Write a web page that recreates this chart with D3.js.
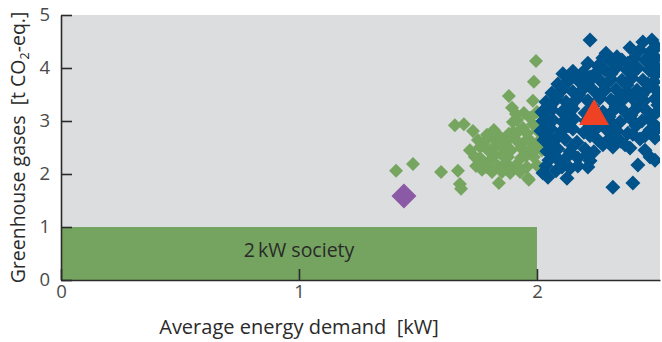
<!DOCTYPE html>
<html>
<head>
<meta charset="utf-8">
<script src="https://cdn.jsdelivr.net/npm/d3@7"></script>
<style>
  html, body { margin: 0; padding: 0; background: #fff; }
  svg { display: block; font-family: "Open Sans", "Noto Sans", sans-serif; }
</style>
</head>
<body>
<svg id="chart" width="662" height="342"></svg>
<script>
// Average energy demand [kW] vs. greenhouse gases [t CO2-eq.]
const xTicks = [0, 1, 2];
const yTicks = [0, 1, 2, 3, 4, 5];

// 2 kW society target zone
const targetZone = { x0: 0, x1: 2, y0: 0, y1: 1, label: "2\u2009kW society" };

// Green cluster
const greenPoints = [
  [1.996,4.13],[1.987,3.74],[1.882,3.47],[1.983,3.38],[2.000,3.17],[1.895,3.25],[1.912,3.13],
  [1.899,2.98],[1.655,2.92],[1.693,2.94],[1.731,2.81],[1.819,2.83],[1.815,2.70],[1.718,2.45],
  [1.761,2.51],[1.408,2.06],[1.479,2.19],[1.597,2.04],[1.668,2.06],[1.676,1.81],[1.681,1.72],
  [1.744,2.15],[1.769,2.08],[1.840,1.83],[1.887,2.02],[1.966,1.89],[1.958,2.13],[2.000,2.17],
  [1.941,2.87],[1.739,2.32],[1.962,1.92],
  [1.794,2.45],[1.828,2.55],[1.853,2.36],[1.870,2.60],[1.891,2.45],[1.912,2.64],[1.933,2.49],
  [1.954,2.34],[1.975,2.62],[1.996,2.47],[1.870,2.21],[1.912,2.17],[1.933,2.30],[1.803,2.26],
  [1.836,2.15],[1.782,2.62],[1.958,2.77],[1.983,2.94],[2.004,2.81],[2.013,2.64],[1.924,2.81],
  [1.882,2.76],[1.853,2.04],[1.811,2.04],[1.786,2.13],[1.987,2.32],[2.021,2.45],[2.013,2.11],
  [1.845,2.70],[1.971,3.06],[1.945,3.15],
  [1.761,2.30],[1.790,2.74],[1.824,2.36],[1.857,2.49],[1.878,2.32],[1.899,2.79],[1.950,2.62],
  [1.971,2.45],[1.891,2.08],[1.929,2.04],[1.811,2.45],[1.752,2.64],[1.916,3.02],[1.773,2.23]
];

// Blue cluster
const bluePoints = [
  [2.223,4.53],[2.445,4.49],[2.483,4.53],[2.504,4.40],
  [2.290,4.28],[2.336,4.21],[2.391,4.38],[2.433,4.34],[2.475,4.30],
  [2.214,4.09],[2.256,4.04],[2.315,4.11],[2.357,4.15],[2.408,4.19],[2.454,4.15],[2.500,4.19],
  [2.109,3.89],[2.151,3.94],[2.193,3.92],[2.244,3.89],[2.286,3.96],[2.332,4.00],[2.378,3.96],
  [2.424,4.00],[2.471,3.96],[2.508,4.00],
  [2.088,3.70],[2.130,3.74],[2.172,3.77],[2.214,3.72],[2.265,3.77],[2.311,3.79],[2.357,3.77],
  [2.399,3.81],[2.445,3.77],[2.492,3.74],
  [2.063,3.53],[2.105,3.58],[2.151,3.55],[2.193,3.60],[2.239,3.57],[2.286,3.58],[2.332,3.60],
  [2.378,3.55],[2.420,3.58],[2.466,3.62],[2.508,3.55],
  [2.038,3.36],[2.080,3.40],[2.122,3.36],[2.168,3.42],[2.214,3.38],[2.265,3.43],[2.311,3.40],
  [2.357,3.38],[2.403,3.42],[2.450,3.38],[2.496,3.42],
  [2.021,3.17],[2.063,3.21],[2.105,3.17],[2.151,3.23],[2.202,3.15],[2.277,3.17],[2.324,3.21],
  [2.370,3.17],[2.416,3.23],[2.462,3.19],[2.504,3.17],
  [2.025,3.00],[2.067,3.02],[2.109,2.98],[2.155,3.04],[2.206,3.00],[2.256,2.96],[2.303,3.02],
  [2.349,2.98],[2.395,3.04],[2.441,3.00],[2.487,2.96],
  [2.017,2.81],[2.059,2.85],[2.105,2.81],[2.151,2.85],[2.197,2.79],[2.244,2.83],[2.290,2.85],
  [2.336,2.81],[2.382,2.77],[2.475,2.83],
  [2.029,2.64],[2.071,2.62],[2.118,2.66],[2.168,2.60],[2.256,2.64],[2.307,2.68],[2.353,2.62],
  [2.433,2.66],[2.496,2.68],
  [2.042,2.43],[2.088,2.47],[2.139,2.42],[2.202,2.47],[2.239,2.42],[2.319,2.51],[2.391,2.49],
  [2.454,2.45],
  [2.050,2.26],[2.097,2.23],[2.172,2.30],[2.223,2.25],[2.475,2.32],[2.496,2.26],
  [2.025,2.02],[2.080,2.06],[2.139,2.11],[2.214,2.13],[2.424,2.17],
  [2.046,1.94],[2.126,1.92],[2.403,1.83],[2.319,1.75],
  [2.277,4.19],[2.382,4.09],[2.475,4.09],
  [2.223,3.83],[2.311,3.89],[2.403,3.91],[2.496,3.87],[2.130,3.83],
  [2.109,3.64],[2.197,3.68],[2.286,3.68],[2.378,3.68],[2.466,3.70],
  [2.084,3.47],[2.176,3.49],[2.265,3.51],[2.353,3.47],[2.441,3.49],[2.517,3.47],
  [2.055,3.28],[2.143,3.30],[2.235,3.28],[2.332,3.28],[2.424,3.30],[2.508,3.30],
  [2.042,3.09],[2.130,3.09],[2.227,3.06],[2.303,3.08],[2.395,3.11],[2.479,3.09],
  [2.046,2.91],[2.134,2.91],[2.227,2.91],[2.319,2.91],[2.416,2.91],[2.508,2.87],
  [2.038,2.72],[2.097,2.74],[2.223,2.72],[2.315,2.75],[2.403,2.75],[2.454,2.72],
  [2.063,2.53],[2.151,2.53],[2.277,2.55],[2.370,2.55],
  [2.076,2.34],[2.122,2.30],[2.210,2.36],
  [2.038,2.15],[2.105,2.13],[2.172,2.15]
];

// Highlighted single values
const purplePoint = [1.441, 1.585];
const redPoint = [2.24, 3.17];

const colors = {
  plotBg: "#dcdddf",
  zone: "#74a45f",
  green: "#76a560",
  blue: "#00528a",
  purple: "#8a5aa6",
  red: "#ef4123",
  axis: "#2b2b2b",
  tickText: "#4a4a4a",
  title: "#2a2a2a"
};

const svg = d3.select("#chart");
const margin = { left: 61, right: 2, top: 15, bottom: 62 };
const W = 662, H = 342;

const x = d3.scaleLinear().domain([0, 2.517]).range([margin.left, W - margin.right]);
const y = d3.scaleLinear().domain([0, 5]).range([H - margin.bottom, margin.top]);

// plot background
svg.append("rect")
  .attr("x", x(0)).attr("y", y(5))
  .attr("width", x(2.517) - x(0)).attr("height", y(0) - y(5))
  .attr("fill", colors.plotBg);

svg.append("clipPath").attr("id", "plot-clip")
  .append("rect")
  .attr("x", x(0)).attr("y", y(5))
  .attr("width", x(2.517) - x(0)).attr("height", y(0) - y(5));

const plot = svg.append("g").attr("clip-path", "url(#plot-clip)");

// target zone
plot.append("rect")
  .attr("x", x(targetZone.x0)).attr("y", y(targetZone.y1))
  .attr("width", x(targetZone.x1) - x(targetZone.x0))
  .attr("height", y(targetZone.y0) - y(targetZone.y1))
  .attr("fill", colors.zone);

svg.append("text")
  .attr("x", x((targetZone.x0 + targetZone.x1) / 2))
  .attr("y", y(0.5) + 3.5)
  .attr("text-anchor", "middle")
  .attr("font-size", 19.5)
  .attr("fill", colors.title)
  .text(targetZone.label);

// diamonds: squares rotated by 45 degrees
const diamond = (half) => d3.symbol().type(d3.symbolSquare).size(2 * half * half)();

plot.append("g").selectAll("path").data(greenPoints).join("path")
  .attr("d", diamond(7))
  .attr("transform", d => `translate(${x(d[0])},${y(d[1])}) rotate(45)`)
  .attr("fill", colors.green);

plot.append("g").selectAll("path").data(bluePoints).join("path")
  .attr("d", diamond(7.5))
  .attr("transform", d => `translate(${x(d[0])},${y(d[1])}) rotate(45)`)
  .attr("fill", colors.blue);

plot.append("path")
  .attr("d", diamond(12.5))
  .attr("transform", `translate(${x(purplePoint[0])},${y(purplePoint[1])}) rotate(45)`)
  .attr("fill", colors.purple);

plot.append("path")
  .attr("d", "M0,-13L15,13L-15,13Z")
  .attr("transform", `translate(${x(redPoint[0])},${y(redPoint[1])})`)
  .attr("fill", colors.red);

// axes with inward ticks
const xAxis = d3.axisBottom(x).tickValues(xTicks).tickSizeInner(-11).tickSizeOuter(0)
  .tickPadding(16).tickFormat(d3.format("d"));
const yAxis = d3.axisLeft(y).tickValues(yTicks).tickSizeInner(-11).tickSizeOuter(0)
  .tickPadding(20).tickFormat(d3.format("d"));

const gx = svg.append("g").attr("transform", `translate(0,${y(0)})`).call(xAxis);
const gy = svg.append("g").attr("transform", `translate(${x(0)},0)`).call(yAxis);

[gx, gy].forEach(g => {
  g.select(".domain").attr("stroke", colors.axis).attr("stroke-width", 1.6);
  g.selectAll(".tick line").attr("stroke", colors.axis).attr("stroke-width", 1.6);
  g.selectAll(".tick text").attr("font-size", 18.5).attr("fill", colors.tickText)
    .attr("font-family", "\"Open Sans\", \"Noto Sans\", sans-serif");
});
gx.selectAll(".tick text").attr("dy", "0.71em").attr("y", 5);
gy.selectAll(".tick text").attr("x", -11);

// axis titles
svg.append("text")
  .attr("x", x(1)).attr("y", 334)
  .attr("text-anchor", "middle")
  .attr("font-size", 20)
  .attr("fill", colors.title)
  .attr("xml:space", "preserve")
  .text("Average energy demand  [kW]");

const yt = svg.append("text")
  .attr("transform", `translate(25,${(y(0) + y(5)) / 2}) rotate(-90)`)
  .attr("text-anchor", "middle")
  .attr("font-size", 19.5)
  .attr("fill", colors.title)
  .attr("xml:space", "preserve");
yt.append("tspan").text("Greenhouse gases  [t CO");
yt.append("tspan").attr("font-size", 12.5).attr("dy", 4).text("2");
yt.append("tspan").attr("dy", -4).text("-eq.]");
</script>
</body>
</html>
